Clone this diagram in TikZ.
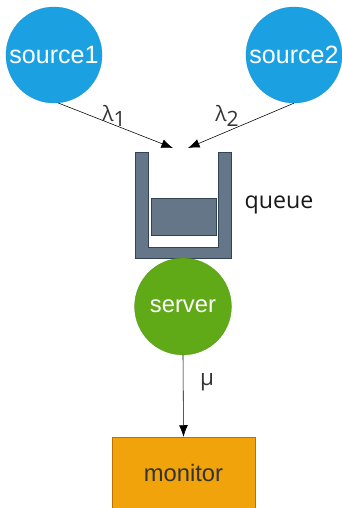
\documentclass[tikz,border=0pt]{standalone}
\usepackage{fontspec}
\setmainfont{Liberation Sans}
\newfontfamily\labelfont{Open Sans}
\usetikzlibrary{arrows.meta}

\definecolor{srcblue}{HTML}{1BA1E2}
\definecolor{srcline}{HTML}{1590CF}
\definecolor{srvgreen}{HTML}{60A917}
\definecolor{srvline}{HTML}{4F9512}
\definecolor{qgray}{HTML}{647687}
\definecolor{qline}{HTML}{314354}
\definecolor{monorange}{HTML}{F0A30A}
\definecolor{monline}{HTML}{BD7000}

\begin{document}
\begin{tikzpicture}[x=0.025cm, y=-0.025cm,
  >={Latex[length=2.9mm,width=2.2mm]},
  source/.style={circle, fill=srcblue, draw=srcline, very thin,
    minimum size=2.4cm, inner sep=0pt, text=white,
    font=\fontsize{17.8}{20}\selectfont},
  server/.style={circle, fill=srvgreen, draw=srvline, very thin,
    minimum size=2.42cm, inner sep=0pt, text=white,
    font=\fontsize{16.9}{20}\selectfont},
  rate/.style={text=black!80, font=\labelfont\fontsize{15}{18}\selectfont},
  flow/.style={->, thin, black}]
  \useasboundingbox (0,0) rectangle (342,508);

  % sources
  \node[source] (src1) at (54,55) {source1};
  \node[source] (src2) at (294,55) {source2};

  % queue walls and the waiting job
  \fill[qgray, draw=qline, very thin] (135,152) -- (148,152) -- (148,247)
    -- (218,247) -- (218,152) -- (231,152) -- (231,258) -- (135,258) -- cycle;
  \node[rectangle, fill=qgray, draw=qline, very thin, inner sep=0pt,
    minimum width=1.625cm, minimum height=0.925cm] (job) at (183.5,216.5) {};
  \node[text=black!90, font=\labelfont\fontsize{16.5}{20}\selectfont] (qlabel) at (279,205) {queue};

  \coordinate (in1) at (173,148);
  \coordinate (in2) at (188,148);
  \draw[flow] (src1.-85) -- (in1);
  \draw[flow] (src2.-90) -- (in2);
  \node[rate] (lam1) at (114,116) {λ\raisebox{-0.4ex}{1}};
  \node[rate] (lam2) at (227,116) {λ\raisebox{-0.4ex}{2}};

  % server and monitor
  \node[server] (srv) at (183,306.5) {server};
  \node[rectangle, fill=monorange, draw=monline, very thin, inner sep=0pt,
    minimum width=3.575cm, minimum height=1.8cm, text=black!80,
    font=\fontsize{16.9}{20}\selectfont] (mon) at (183.5,473) {monitor};
  \draw[flow] (srv.south) -- (mon.north);
  \node[rate, font=\labelfont\fontsize{16}{18}\selectfont] (mu) at (207,382) {μ};

\end{tikzpicture}
\end{document}
